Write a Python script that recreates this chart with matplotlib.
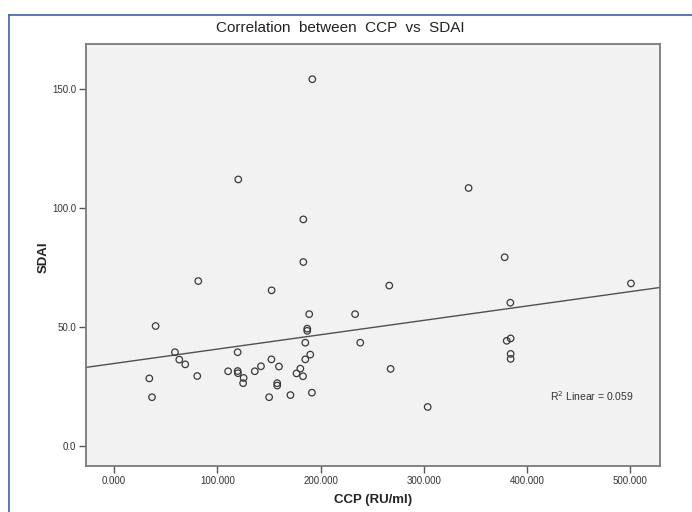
#!/usr/bin/env python3
"""SPSS-style scatter: CCP vs SDAI with linear fit line."""
import numpy as np
import matplotlib
matplotlib.use("Agg")
import matplotlib.pyplot as plt
from matplotlib.lines import Line2D

# ── Data ─────────────────────────────────────────────────────────────────────
ccp = [192.0, 120.3, 343.3, 183.3, 378.2, 183.3, 81.6, 266.5, 500.5, 152.6,
       383.7, 189.0, 233.4, 40.3, 187.1, 187.1, 185.2, 238.4, 380.2, 384.0,
       59.0, 119.7, 190.0, 384.0, 384.0, 63.2, 152.4, 185.2, 69.0, 142.3,
       159.7, 180.4, 267.8, 110.5, 136.3, 119.7, 120.0, 176.7, 80.6, 183.0,
       125.5, 34.2, 125.0, 158.0, 158.0, 191.6, 170.8, 36.8, 150.2, 303.7]
sdai = [154.1, 112.0, 108.4, 95.2, 79.3, 77.3, 69.3, 67.4, 68.3, 65.4,
        60.2, 55.4, 55.4, 50.4, 49.3, 48.4, 43.4, 43.4, 44.2, 45.2,
        39.4, 39.4, 38.4, 38.7, 36.6, 36.3, 36.4, 36.4, 34.3, 33.5,
        33.4, 32.5, 32.4, 31.4, 31.4, 31.5, 30.6, 30.5, 29.4, 29.3,
        28.6, 28.4, 26.4, 26.4, 25.4, 22.4, 21.4, 20.5, 20.5, 16.4]
x_ticks = [0, 100, 200, 300, 400, 500]
y_ticks = [0, 50, 100, 150]
r2_label = "R$^2$ Linear = 0.059"

plt.rcParams["font.family"] = ["Liberation Sans", "DejaVu Sans"]

W, H = 692, 512
fig = plt.figure(figsize=(W / 100, H / 100), dpi=100, facecolor="white")
ax = fig.add_axes([86 / W, 1 - 466 / H, 574 / W, 422 / H])
ax.set_facecolor("#f2f2f2")

x = np.array(ccp)
y = np.array(sdai)
ax.scatter(x, y, s=22, facecolors="none", edgecolors="#3a3a3a",
           linewidths=0.9, zorder=3)

# linear fit line across the full x range
xlim = (-27.1, 528.6)
slope, icpt = np.polyfit(x, y, 1)
xs = np.array(xlim)
ax.plot(xs, icpt + slope * xs, color="#505050", lw=1.0, zorder=2)

ax.set_xlim(*xlim)
ax.set_ylim(-8.4, 168.9)
ax.set_xticks(x_ticks)
ax.set_xticklabels([f"{v:.3f}" for v in x_ticks])
ax.set_yticks(y_ticks)
ax.set_yticklabels([f"{v:.1f}" for v in y_ticks])
ax.tick_params(direction="out", length=5, width=1.0, color="#555555",
               labelsize=7, labelcolor="#333333", pad=2)

for sp in ax.spines.values():
    sp.set_color("#7a7a7a")
    sp.set_linewidth(1.3)

ax.set_xlabel("CCP (RU/ml)", fontsize=9.5, fontweight="bold",
              color="#222222", labelpad=6)
ax.set_ylabel("SDAI", fontsize=9.5, fontweight="bold", color="#222222")
ax.yaxis.set_label_coords(-0.064, 0.495)

ax.text(0.809, 0.165, r2_label, transform=ax.transAxes, fontsize=7.5,
        color="#333333", ha="left", va="center")

fig.text(340 / W, 1 - 28 / H, "Correlation  between  CCP  vs  SDAI",
         ha="center", va="center", fontsize=11, color="#222222")

# blue frame around the figure (left + top visible)
fig.add_artist(Line2D([9 / W, 9 / W], [0, 1 - 15 / H], color="#3a62b5",
                      lw=1.2, transform=fig.transFigure))
fig.add_artist(Line2D([9 / W, 1], [1 - 15 / H, 1 - 15 / H], color="#3a62b5",
                      lw=1.2, transform=fig.transFigure))

fig.savefig("out.png", dpi=100, facecolor="white")
